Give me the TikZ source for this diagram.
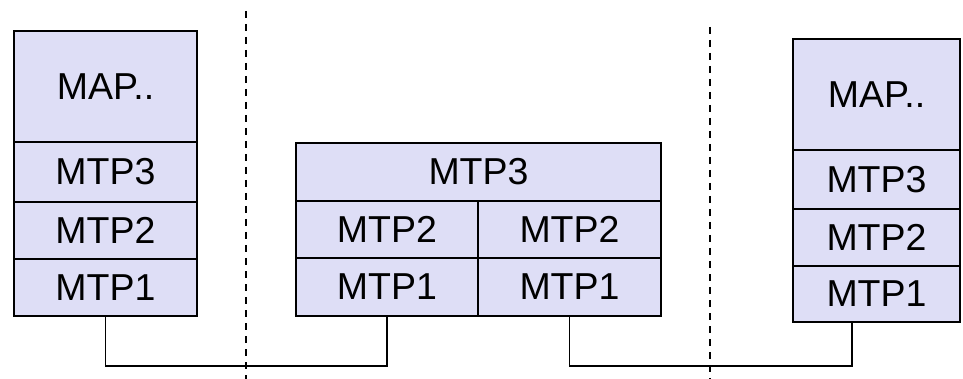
\documentclass[tikz,border=0pt]{standalone}
\usepackage{fontspec}
\setmainfont{Liberation Sans}
\usetikzlibrary{positioning}
\definecolor{cellfill}{RGB}{222,222,246}
\tikzset{
  cell/.style={draw=black, fill=cellfill, line width=1.5pt, inner sep=0pt,
    font=\fontsize{37.5}{42}\selectfont},
  link/.style={draw=black, line width=1.5pt},
  divider/.style={draw=black, line width=1.8pt, dash pattern=on 7pt off 6pt},
}
\newcommand{\cellbox}[6]{% name, x0, y0, x1, y1, text
  \node[cell, minimum width={(#4-#2)*1pt}, minimum height={(#5-#3)*1pt}]
    (#1) at ({(#2+#4)/2},{(#3+#5)/2}) {#6};}
\begin{document}
\begin{tikzpicture}[x=1pt,y=-1pt]
  \useasboundingbox (0,0) rectangle (963,379);

  % segment separators
  \draw[divider] (246,11) -- (246,379);
  \draw[divider] (710,27) -- (710,379);

  % left end point
  \cellbox{lmap}{14}{31}{197}{142}{MAP..}
  \cellbox{lm3}{14}{142}{197}{202}{MTP3}
  \cellbox{lm2}{14}{202}{197}{259}{MTP2}
  \cellbox{lm1}{14}{259}{197}{316}{MTP1}

  % transfer point in the middle
  \cellbox{mm3}{296}{143}{661}{201}{MTP3}
  \cellbox{mm2a}{296}{201}{478}{258}{MTP2}
  \cellbox{mm2b}{478}{201}{661}{258}{MTP2}
  \cellbox{mm1a}{296}{258}{478}{316}{MTP1}
  \cellbox{mm1b}{478}{258}{661}{316}{MTP1}

  % right end point
  \cellbox{rmap}{793}{39}{960}{150}{MAP..}
  \cellbox{rm3}{793}{150}{960}{209}{MTP3}
  \cellbox{rm2}{793}{209}{960}{266}{MTP2}
  \cellbox{rm1}{793}{266}{960}{322}{MTP1}

  % links between the MTP1 layers
  \coordinate (rtap) at (852,322);
  \draw[link] (lm1.south) -- ++(0,49) -| (mm1a.south);
  \draw[link] (mm1b.south) -- ++(0,49) -| (rtap);
\end{tikzpicture}
\end{document}
